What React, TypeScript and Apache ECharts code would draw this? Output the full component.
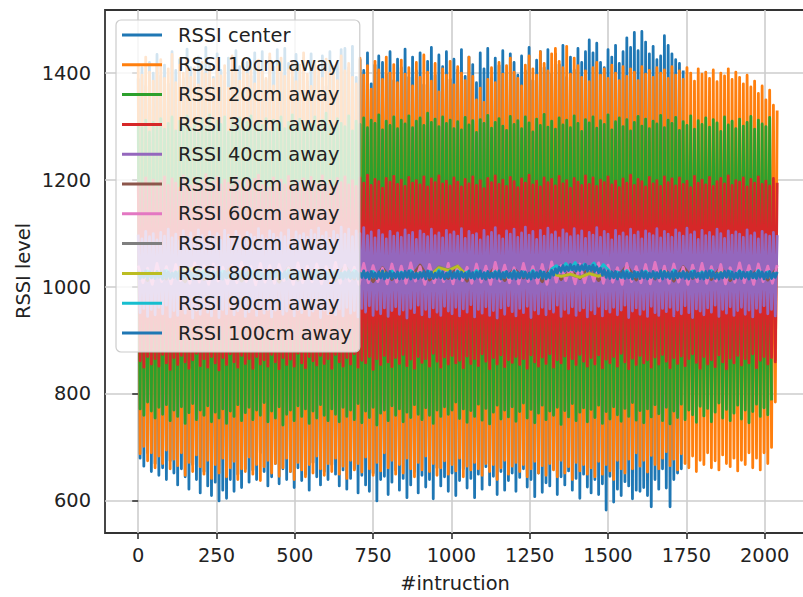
import React, { useEffect, useRef } from "react";
import * as echarts from "echarts";

// Sample spacing (in instructions) of the recorded traces
const STEP_MAIN = 6;
const STEP_MID = 15;
const STEP_FINE = 30;

const seriesNames = [
  "RSSI center",
  "RSSI 10cm away",
  "RSSI 20cm away",
  "RSSI 30cm away",
  "RSSI 40cm away",
  "RSSI 50cm away",
  "RSSI 60cm away",
  "RSSI 70cm away",
  "RSSI 80cm away",
  "RSSI 90cm away",
  "RSSI 100cm away",
];

const seriesColors = [
  "#1f77b4", "#ff7f0e", "#2ca02c", "#d62728", "#9467bd",
  "#8c564b", "#e377c2", "#7f7f7f", "#bcbd22", "#17becf", "#1f77b4",
];

const xTicks = [0, 250, 500, 750, 1000, 1250, 1500, 1750, 2000];
const yTicks = [600, 800, 1000, 1200, 1400];

const rssiCenter = [
  1390, 680, 1410, 665, 1375, 690, 1420, 655, 1400, 670, 1435, 648, 1395, 662, 1415, 640, 1380, 675, 1440, 652,
  1405, 630, 1425, 660, 1390, 645, 1445, 622, 1410, 668, 1380, 640, 1430, 615, 1400, 655, 1448, 628, 1415, 610,
  1392, 635, 1436, 600, 1405, 620, 1385, 605, 1428, 640, 1398, 618, 1442, 650, 1412, 625, 1378, 660, 1420, 635,
  1395, 658, 1438, 640, 1408, 690, 1440, 655, 1386, 628, 1430, 645, 1412, 670, 1444, 632, 1400, 660, 1446, 640,
  1418, 655, 1392, 625, 1435, 662, 1402, 638, 1428, 650, 1384, 620, 1436, 672, 1410, 645, 1395, 630, 1432, 655,
  1375, 640, 1440, 668, 1398, 650, 1420, 628, 1444, 658, 1446, 622, 1410, 642, 1450, 660, 1392, 615, 1425, 648,
  1405, 630, 1438, 618, 1380, 652, 1415, 600, 1432, 640, 1420, 646, 1398, 612, 1440, 635, 1386, 658, 1426, 620,
  1410, 642, 1445, 606, 1392, 630, 1430, 655, 1404, 615, 1438, 648, 1378, 626, 1422, 640, 1448, 604, 1396, 662,
  1434, 628, 1412, 645, 1440, 618, 1388, 652, 1426, 610, 1406, 638, 1444, 660, 1394, 624, 1430, 642, 1416, 606,
  1382, 650, 1438, 622, 1408, 664, 1446, 630, 1390, 646, 1428, 612, 1414, 655, 1442, 620, 1400, 638, 1436, 652,
  1420, 618, 1396, 644, 1432, 660, 1404, 626, 1448, 640, 1386, 608, 1424, 652, 1440, 616, 1410, 634, 1444, 628,
  1398, 660, 1436, 612, 1416, 645, 1452, 630, 1392, 656, 1430, 620, 1406, 642, 1446, 605, 1420, 650, 1440, 626,
  1462, 615, 1438, 640, 1456, 612, 1420, 632, 1410, 583, 1444, 646, 1430, 598, 1452, 622, 1418, 610, 1440, 636,
  1466, 628, 1448, 604, 1476, 620, 1442, 618, 1478, 625, 1458, 610, 1436, 589, 1450, 640, 1425, 622, 1432, 660,
  1470, 624, 1452, 589, 1436, 640, 1425, 652, 1418, 660, 1405,
];

const rssi10 = [
  1418, 688, 1396, 702, 1430, 675, 1402, 690, 1385, 662, 1412, 684, 1425, 670, 1390, 695, 1408, 660, 1435, 678,
  1382, 666, 1415, 690, 1400, 648, 1428, 672, 1392, 655, 1410, 686, 1378, 664, 1420, 650, 1398, 676, 1405, 642,
  1388, 668, 1426, 652, 1395, 680, 1414, 645, 1372, 662, 1432, 674, 1404, 640, 1385, 660, 1418, 655, 1398, 682,
  1410, 650, 1380, 668, 1424, 638, 1402, 664, 1390, 676, 1436, 652, 1376, 670, 1412, 646, 1428, 662, 1394, 680,
  1406, 655, 1420, 640, 1384, 672, 1415, 658, 1438, 645, 1398, 668, 1375, 652, 1422, 684, 1408, 660, 1390, 648,
  1426, 670, 1400, 655, 1412, 680, 1386, 650, 1432, 665, 1404, 642, 1418, 676, 1392, 658, 1380, 670, 1428, 654,
  1396, 682, 1414, 660, 1370, 648, 1422, 672, 1406, 656, 1388, 690, 1430, 662, 1400, 676, 1416, 650, 1382, 668,
  1424, 652, 1398, 680, 1410, 660, 1376, 645, 1420, 672, 1392, 658, 1434, 684, 1402, 655, 1385, 670, 1418, 648,
  1365, 662, 1408, 675, 1396, 650, 1422, 668, 1378, 656, 1412, 680, 1400, 645, 1386, 665, 1430, 658, 1394, 672,
  1350, 660, 1372, 648, 1345, 670, 1388, 655, 1410, 668, 1382, 640, 1420, 662, 1398, 676, 1414, 650, 1428, 665,
  1402, 672, 1390, 655, 1376, 668, 1415, 645, 1432, 660, 1408, 674, 1396, 652, 1440, 666, 1418, 648, 1404, 670,
  1436, 658, 1446, 645, 1422, 676, 1410, 652, 1450, 664, 1398, 640, 1428, 672, 1414, 656, 1392, 668, 1404, 650,
  1384, 662, 1410, 645, 1420, 674, 1396, 650, 1408, 668, 1390, 656, 1415, 640, 1400, 676, 1386, 660, 1412, 652,
  1394, 678, 1408, 660, 1402, 690, 1386, 665, 1412, 676, 1398, 654, 1405, 685, 1392, 668, 1410, 660, 1400, 680,
  1406, 692, 1390, 666, 1412, 678, 1396, 658, 1404, 688, 1388, 670, 1410, 662, 1400, 684, 1385, 655, 1408, 676,
  1398, 668, 1402, 690, 1390, 662, 1406, 675, 1384, 658, 1400, 686, 1395, 670, 1408, 664, 1388, 680, 1402, 656,
  1392, 676, 1380, 668, 1396, 690, 1374, 662, 1385, 680, 1362, 658, 1376, 690, 1350, 670, 1368, 700, 1340, 785,
  1330,
];

const rssi20 = [
  1305, 772, 1298, 760, 1312, 785, 1290, 768, 1308, 755, 1300, 775, 1315, 762, 1295, 780, 1306, 750, 1318, 770,
  1292, 758, 1310, 776, 1302, 745, 1320, 765, 1296, 782, 1308, 752, 1288, 770, 1314, 760, 1300, 778, 1322, 748,
  1295, 766, 1310, 755, 1304, 772, 1318, 745, 1290, 768, 1312, 758, 1300, 780, 1316, 750, 1294, 765, 1308, 775,
  1320, 752, 1298, 770, 1310, 760, 1302, 784, 1315, 748, 1290, 768, 1312, 755, 1305, 776, 1318, 742, 1296, 762,
  1308, 770, 1322, 750, 1300, 778, 1314, 758, 1292, 772, 1310, 745, 1304, 768, 1318, 755, 1298, 780, 1312, 760,
  1325, 750, 1302, 772, 1296, 762, 1315, 748, 1306, 775, 1300, 758, 1320, 770, 1292, 752, 1310, 782, 1304, 746,
  1316, 768, 1298, 756, 1312, 775, 1306, 742, 1322, 764, 1294, 770, 1310, 750, 1302, 778, 1318, 760, 1296, 772,
  1312, 748, 1305, 766, 1320, 756, 1298, 780, 1310, 762, 1316, 752, 1302, 774, 1325, 760, 1308, 745, 1314, 770,
  1300, 758, 1318, 776, 1306, 762, 1312, 770, 1296, 785, 1309, 754, 1294, 772, 1317, 747, 1303, 769, 1311, 758,
  1289, 781, 1313, 751, 1306, 773, 1321, 744, 1297, 766, 1308, 779, 1315, 753, 1301, 770, 1293, 757, 1319, 776,
  1304, 749, 1311, 767, 1296, 783, 1318, 755, 1307, 771, 1290, 746, 1314, 764, 1302, 779, 1323, 752, 1299, 768,
  1310, 760, 1295, 775, 1316, 743, 1303, 769, 1312, 757, 1298, 782, 1320, 750, 1306, 766, 1291, 774, 1313, 748,
  1307, 771, 1318, 756, 1297, 779, 1311, 745, 1304, 767, 1322, 753, 1294, 776, 1309, 761, 1316, 749, 1300, 773,
  1313, 758, 1292, 784, 1308, 751, 1319, 769, 1301, 746, 1314, 772, 1296, 757, 1310, 780, 1305, 763, 1321, 750,
  1298, 775, 1312, 744, 1306, 768, 1317, 756, 1293, 781, 1309, 752, 1302, 770, 1320, 761, 1295, 747, 1311, 777,
  1304, 759, 1316, 773, 1299, 748, 1313, 766, 1307, 783, 1291, 755, 1318, 771, 1303, 750, 1310, 764, 1296, 779,
  1314, 753, 1301, 770, 1308, 746, 1319, 767, 1295, 781, 1312, 758, 1305, 774, 1300, 761, 1317, 788,
];

const rssi30 = [
  1196, 862, 1188, 850, 1204, 870, 1192, 856, 1200, 866, 1186, 852, 1198, 874, 1206, 858, 1190, 846, 1202, 868,
  1194, 855, 1185, 872, 1208, 860, 1196, 848, 1189, 864, 1203, 876, 1192, 853, 1199, 866, 1210, 850, 1187, 870,
  1197, 858, 1205, 845, 1191, 868, 1200, 855, 1194, 875, 1188, 860, 1206, 850, 1198, 872, 1185, 857, 1203, 866,
  1193, 848, 1201, 870, 1209, 856, 1190, 864, 1197, 852, 1186, 874, 1204, 860, 1195, 847, 1200, 868, 1191, 855,
  1207, 865, 1189, 852, 1199, 876, 1194, 858, 1202, 849, 1187, 870, 1205, 862, 1196, 854, 1192, 872, 1208, 857,
  1190, 866, 1200, 848, 1186, 874, 1203, 860, 1195, 852, 1206, 868, 1191, 856, 1199, 875, 1188, 850, 1204, 863,
  1194, 858, 1209, 870, 1190, 846, 1201, 866, 1197, 855, 1185, 872, 1203, 860, 1196, 851, 1207, 868, 1192, 857,
  1200, 874, 1188, 853, 1205, 865, 1194, 848, 1199, 870, 1191, 859, 1206, 866, 1187, 852, 1202, 876, 1195, 861,
  1208, 850, 1193, 869, 1198, 856, 1189, 872, 1204, 858, 1196, 863, 1187, 849, 1201, 871, 1193, 857, 1206, 866,
  1190, 853, 1199, 875, 1184, 861, 1203, 847, 1195, 868, 1208, 856, 1192, 873, 1200, 851, 1188, 864, 1205, 859,
  1197, 870, 1186, 855, 1202, 866, 1194, 848, 1209, 873, 1191, 860, 1198, 852, 1187, 869, 1204, 857, 1195, 875,
  1201, 850, 1189, 864, 1207, 858, 1193, 871, 1199, 847, 1185, 866, 1203, 855, 1196, 874, 1190, 861, 1208, 852,
  1192, 868, 1204, 856, 1188, 873, 1200, 849, 1195, 865, 1206, 858, 1191, 870, 1198, 852, 1186, 876, 1202, 860,
  1194, 847, 1209, 867, 1190, 855, 1201, 872, 1197, 858, 1187, 864, 1205, 850, 1193, 869, 1199, 856, 1188, 874,
  1206, 861, 1195, 849, 1202, 868, 1189, 857, 1204, 871, 1192, 853, 1198, 866, 1186, 875, 1207, 859, 1194, 848,
  1200, 870, 1191, 856, 1205, 864, 1188, 851, 1197, 873, 1203, 860, 1193, 847, 1208, 867, 1190, 858, 1199, 872,
  1196, 854, 1204, 866, 1187, 858, 1201, 875, 1194, 849, 1206, 863, 1192, 870, 1198, 856, 1189, 868, 1203, 860,
  1195,
];

const rssi40 = [
  1098, 952, 1090, 960, 1104, 945, 1094, 958, 1100, 948, 1088, 962, 1102, 950, 1095, 966, 1108, 944, 1092, 956,
  1099, 947, 1086, 963, 1105, 951, 1093, 959, 1101, 942, 1090, 957, 1107, 949, 1096, 964, 1089, 953, 1103, 946,
  1094, 961, 1100, 943, 1087, 958, 1106, 950, 1097, 965, 1091, 948, 1104, 956, 1095, 962, 1088, 945, 1102, 954,
  1098, 960, 1093, 947, 1109, 963, 1096, 951, 1090, 958, 1105, 944, 1099, 957, 1092, 966, 1101, 949, 1094, 955,
  1107, 961, 1089, 946, 1103, 958, 1096, 952, 1100, 964, 1093, 947, 1106, 955, 1098, 960, 1110, 943, 1095, 957,
  1102, 950, 1091, 963, 1104, 948, 1097, 959, 1112, 946, 1099, 962, 1108, 951, 1094, 956, 1105, 944, 1100, 960,
  1111, 953, 1096, 965, 1103, 947, 1092, 958, 1106, 950, 1098, 961, 1090, 945, 1104, 956, 1095, 963, 1101, 949,
  1093, 957, 1107, 942, 1097, 960, 1102, 952, 1089, 966, 1105, 948, 1099, 958, 1094, 944, 1108, 961, 1096, 953,
  1101, 947, 1092, 964, 1106, 955, 1098, 950, 1103, 962, 1095, 946, 1109, 959, 1091, 953, 1104, 967, 1097, 944,
  1100, 958, 1088, 951, 1106, 963, 1094, 947, 1102, 956, 1111, 942, 1096, 961, 1090, 949, 1105, 965, 1099, 954,
  1108, 946, 1093, 960, 1101, 952, 1112, 964, 1097, 943, 1104, 957, 1089, 950, 1106, 962, 1095, 948, 1110, 959,
  1098, 953, 1103, 966, 1092, 945, 1107, 958, 1100, 951, 1094, 963, 1109, 947, 1096, 956, 1105, 961, 1091, 944,
  1102, 957, 1097, 950, 1111, 964, 1093, 946, 1104, 959, 1099, 953, 1088, 962, 1106, 948, 1095, 957, 1101, 966,
  1094, 943, 1108, 955, 1097, 961, 1103, 949, 1090, 958, 1105, 945, 1100, 964, 1096, 952, 1109, 947, 1092, 960,
  1104, 954, 1099, 962, 1093, 946, 1107, 957, 1101, 950, 1095, 965, 1110, 952, 1098, 943, 1103, 959, 1089, 955,
  1106, 948, 1096, 961, 1102, 953, 1094, 966, 1108, 945, 1100, 958, 1091, 951, 1105, 963, 1097, 947, 1103, 956,
  1099, 962, 1093, 949, 1107, 957, 1096, 944, 1101, 960, 1090, 953, 1104, 965, 1098, 950, 1095, 958, 1102, 946,
  1097,
];

const rssi50 = [
  1030, 1012, 1036, 1015, 1028, 1010, 1038, 1014, 1032, 1018, 1040, 1011, 1034, 1016, 1029, 1009, 1037, 1013, 1031, 1017,
  1035, 1012, 1039, 1015, 1030, 1010, 1036, 1014, 1033, 1018, 1041, 1013, 1028, 1016, 1037, 1011, 1032, 1015, 1038, 1012,
  1034, 1017, 1030, 1010, 1039, 1014, 1031, 1016, 1036, 1012, 1033, 1018, 1040, 1013, 1029, 1015, 1035, 1011, 1038, 1016,
  1032, 1014, 1037, 1012, 1030, 1017, 1034, 1013, 1036,
];

const rssi60 = [
  1040, 1008, 1035, 1005, 1044, 1010, 1038, 1006, 1042, 1012, 1036, 1007, 1045, 1009, 1039, 1005, 1043, 1011, 1037, 1006,
  1041, 1008, 1046, 1010, 1038, 1004, 1044, 1009, 1040, 1007, 1042, 1012, 1036, 1005, 1045, 1008, 1039, 1010, 1043, 1006,
  1038, 1009, 1046, 1007, 1041, 1011, 1037, 1005, 1044, 1008, 1040, 1010, 1035, 1006, 1043, 1009, 1039, 1007, 1045, 1011,
  1038, 1005, 1042, 1008, 1036, 1010, 1044, 1006, 1040, 1012, 1037, 1007, 1043, 1009, 1039, 1005, 1046, 1011, 1041, 1008,
  1036, 1006, 1044, 1010, 1038, 1007, 1042, 1005, 1047, 1009, 1040, 1012, 1037, 1006, 1043, 1008, 1039, 1011, 1045, 1007,
  1041, 1009, 1036, 1005, 1044, 1010, 1038, 1008, 1042, 1006, 1046, 1011, 1039, 1007, 1043, 1009, 1037, 1005, 1041, 1010,
  1044, 1007, 1038, 1011, 1042, 1006, 1036, 1009, 1045, 1008, 1040, 1005, 1043, 1010, 1039, 1007, 1041,
];

const rssi70 = [
  1024, 1019, 1027, 1020, 1025, 1018, 1028, 1021, 1023, 1019, 1026, 1020, 1027, 1018, 1024, 1021, 1028, 1019, 1025, 1020,
  1027, 1018, 1024, 1021, 1026, 1019, 1028, 1020, 1023, 1018, 1027, 1021, 1038, 1032, 1040, 1020, 1025, 1019, 1027, 1018,
  1026, 1021, 1024, 1019, 1028, 1020, 1023, 1018, 1027, 1021, 1025, 1019, 1026, 1020, 1028, 1018, 1024, 1021, 1027, 1019,
  1025, 1020, 1026, 1018, 1028, 1021, 1024, 1019, 1026,
];

const rssi80 = [
  1025, 1020, 1027, 1019, 1026, 1033, 1035, 1020, 1024, 1021, 1027, 1019, 1025, 1020, 1028, 1019, 1026, 1021, 1024, 1020,
  1027, 1019, 1025, 1021, 1026, 1020, 1028, 1019, 1024, 1021, 1026, 1020, 1036, 1031, 1039, 1021, 1025, 1019, 1027, 1020,
  1024, 1021, 1026, 1019, 1025, 1020, 1024, 1018, 1025, 1020, 1027, 1019, 1026, 1021, 1024, 1020, 1028, 1019, 1025, 1021,
  1026, 1020, 1027, 1019, 1025, 1021, 1024, 1020, 1026,
];

const rssi90 = [
  1027, 1019, 1030, 1021, 1026, 1018, 1031, 1020, 1028, 1022, 1025, 1019, 1029, 1017, 1032, 1021, 1027, 1020, 1030, 1018,
  1026, 1022, 1029, 1019, 1031, 1020, 1027, 1018, 1030, 1021, 1028, 1019, 1032, 1020, 1026, 1022, 1029, 1018, 1031, 1021,
  1027, 1019, 1030, 1020, 1028, 1018, 1031, 1022, 1026, 1019, 1029, 1021, 1027, 1018, 1030, 1020, 1028, 1022, 1031, 1019,
  1026, 1021, 1029, 1018, 1032, 1020, 1027, 1019, 1030, 1022, 1028, 1018, 1031, 1021, 1026, 1019, 1029, 1020, 1027, 1018,
  1030, 1021, 1028, 1019, 1031, 1020, 1027, 1018, 1034, 1040, 1032, 1044, 1033, 1046, 1031, 1043, 1034, 1045, 1030, 1042,
  1033, 1021, 1028, 1018, 1031, 1020, 1027, 1022, 1030, 1019, 1026, 1021, 1029, 1018, 1032, 1020, 1027, 1019, 1030, 1021,
  1028, 1018, 1031, 1020, 1026, 1022, 1029, 1019, 1030, 1021, 1027, 1018, 1031, 1020, 1028, 1019, 1027,
];

const rssi100 = [
  1029, 1016, 1027, 1018, 1030, 1015, 1028, 1017, 1026, 1016, 1029, 1018, 1027, 1015, 1030, 1017, 1028, 1016, 1026, 1018,
  1028, 1015, 1030, 1017, 1027, 1016, 1029, 1018, 1026, 1015, 1028, 1017, 1030, 1016, 1027, 1018, 1029, 1015, 1026, 1017,
  1030, 1016, 1028, 1018, 1026, 1015, 1029, 1017, 1027, 1016, 1030, 1018, 1028, 1015, 1026, 1017, 1029, 1016, 1027, 1018,
  1027, 1017, 1029, 1015, 1030, 1018, 1026, 1016, 1028, 1017, 1027, 1015, 1029, 1018, 1030, 1016, 1026, 1017, 1028, 1015,
  1029, 1018, 1027, 1016, 1030, 1015, 1028, 1017, 1026, 1018, 1029, 1016, 1027, 1015, 1030, 1017, 1028, 1018, 1026, 1016,
  1028, 1015, 1030, 1018, 1027, 1016, 1029, 1017, 1026, 1015, 1028, 1018, 1030, 1016, 1027, 1017, 1029, 1015, 1026, 1018,
  1030, 1017, 1027, 1015, 1029, 1018, 1026, 1016, 1028, 1017, 1030, 1015, 1027, 1018, 1029, 1016, 1026, 1017, 1028, 1015,
  1027, 1016, 1029, 1018, 1030, 1015, 1028, 1017, 1026, 1016, 1027, 1018, 1029, 1015, 1030, 1017, 1028, 1016, 1026, 1018,
  1029, 1017, 1028, 1015, 1026, 1018, 1030, 1016, 1027, 1017, 1029, 1015, 1028, 1018, 1026, 1016, 1030, 1017, 1027, 1015,
  1028, 1018, 1030, 1016, 1027, 1015, 1029, 1017, 1026, 1018, 1028, 1016, 1030, 1015, 1027, 1017, 1029, 1018, 1026, 1016,
  1030, 1015, 1027, 1017, 1029, 1018, 1028, 1016, 1026, 1015, 1029, 1017, 1027, 1018, 1030, 1016, 1028, 1015, 1026, 1017,
  1031, 1022, 1034, 1026, 1037, 1029, 1040, 1030, 1038, 1031, 1042, 1032, 1039, 1030, 1041, 1031, 1040, 1032, 1042, 1030,
  1039, 1031, 1041, 1029, 1038, 1027, 1035, 1022, 1032, 1018, 1030, 1016, 1028, 1017, 1029, 1015, 1027, 1018, 1030, 1016,
  1028, 1017, 1026, 1015, 1029, 1018, 1027, 1016, 1030, 1017, 1028, 1015, 1026, 1018, 1029, 1016, 1027, 1017, 1030, 1015,
  1029, 1018, 1027, 1016, 1028, 1015, 1030, 1017, 1026, 1018, 1029, 1016, 1027, 1015, 1028, 1017, 1030, 1018, 1026, 1016,
  1027, 1015, 1029, 1017, 1030, 1018, 1028, 1016, 1026, 1015, 1027, 1017, 1029, 1018, 1030, 1016, 1028, 1015, 1026, 1017,
  1030, 1016, 1028, 1018, 1027, 1015, 1029, 1017, 1026, 1016, 1030, 1018, 1028, 1015, 1027, 1017, 1029, 1016, 1026, 1018,
  1028,
];

const traces: { values: number[]; step: number }[] = [
  { values: rssiCenter, step: STEP_MAIN },
  { values: rssi10, step: STEP_MAIN },
  { values: rssi20, step: STEP_MAIN },
  { values: rssi30, step: STEP_MAIN },
  { values: rssi40, step: STEP_MAIN },
  { values: rssi50, step: STEP_FINE },
  { values: rssi60, step: STEP_MID },
  { values: rssi70, step: STEP_FINE },
  { values: rssi80, step: STEP_FINE },
  { values: rssi90, step: STEP_MID },
  { values: rssi100, step: STEP_MAIN },
];

const FONT = '"DejaVu Sans", "Noto Sans", sans-serif';
const FONT_SIZE = 19.4;
const TEXT_COLOR = "#222222";

export default function App() {
  const chartRef = useRef<HTMLDivElement>(null);

  useEffect(() => {
    if (!chartRef.current) return;
    const chart = echarts.init(chartRef.current, undefined, { renderer: "svg" });

    const series = traces.map((t, idx) => ({
      type: "line" as const,
      name: seriesNames[idx],
      data: t.values.map((v, i) => [i * t.step, v]),
      color: seriesColors[idx],
      symbol: "none",
      showSymbol: false,
      silent: true,
      animation: false,
      clip: true,
      lineStyle: { width: 2.8, join: "round", color: seriesColors[idx] },
      emphasis: { disabled: true },
    }));

    const tickLabel = (v: number) => String(v);

    chart.setOption({
      animation: false,
      backgroundColor: "#ffffff",
      textStyle: { fontFamily: FONT },
      grid: {
        left: 105,
        top: 10,
        right: 1,
        bottom: 64,
        show: true,
        borderColor: "#333333",
        borderWidth: 1.8,
        backgroundColor: "transparent",
      },
      xAxis: {
        type: "value",
        min: -106,
        max: 2148,
        axisLine: { show: false },
        axisTick: {
          show: true,
          length: 6,
          customValues: xTicks,
          lineStyle: { color: "#333333", width: 1.6 },
        },
        axisLabel: {
          customValues: xTicks,
          formatter: tickLabel,
          fontSize: FONT_SIZE,
          fontFamily: FONT,
          color: TEXT_COLOR,
          margin: 13,
        },
        splitLine: { show: true, lineStyle: { color: "#cdcdcd", width: 1.6 } },
      },
      yAxis: {
        type: "value",
        min: 540,
        max: 1518,
        axisLine: { show: false },
        axisTick: {
          show: true,
          length: 6,
          customValues: yTicks,
          lineStyle: { color: "#333333", width: 1.6 },
        },
        axisLabel: {
          customValues: yTicks,
          formatter: tickLabel,
          fontSize: FONT_SIZE,
          fontFamily: FONT,
          color: TEXT_COLOR,
          margin: 14,
        },
        splitLine: { show: true, lineStyle: { color: "#cdcdcd", width: 1.6 } },
      },
      legend: {
        orient: "vertical",
        left: 116,
        top: 20,
        icon: "rect",
        itemWidth: 40,
        itemHeight: 3,
        itemGap: 9.8,
        padding: [5, 8, 9, 6],
        backgroundColor: "rgba(255,255,255,0.8)",
        borderColor: "#cccccc",
        borderWidth: 1.2,
        borderRadius: 5,
        selectedMode: false,
        data: seriesNames,
        textStyle: {
          fontSize: FONT_SIZE,
          lineHeight: 20,
          fontFamily: FONT,
          color: TEXT_COLOR,
          padding: [0, 0, 0, 11],
        },
      },
      graphic: [
        {
          type: "text",
          x: 455,
          y: 583,
          style: {
            text: "#intruction",
            font: `${FONT_SIZE}px ${FONT}`,
            fill: TEXT_COLOR,
            align: "center",
            verticalAlign: "middle",
          },
        },
        {
          type: "text",
          x: 23,
          y: 271,
          rotation: Math.PI / 2,
          style: {
            text: "RSSI level",
            font: `${FONT_SIZE}px ${FONT}`,
            fill: TEXT_COLOR,
            align: "center",
            verticalAlign: "middle",
          },
        },
      ],
      series,
    });

    return () => {
      chart.dispose();
    };
  }, []);

  return (
    <div
      style={{
        position: "absolute",
        left: 0,
        top: 0,
        width: 803,
        height: 597,
        overflow: "hidden",
        background: "#ffffff",
      }}
    >
      <div ref={chartRef} style={{ width: 812, height: 597 }} />
    </div>
  );
}
